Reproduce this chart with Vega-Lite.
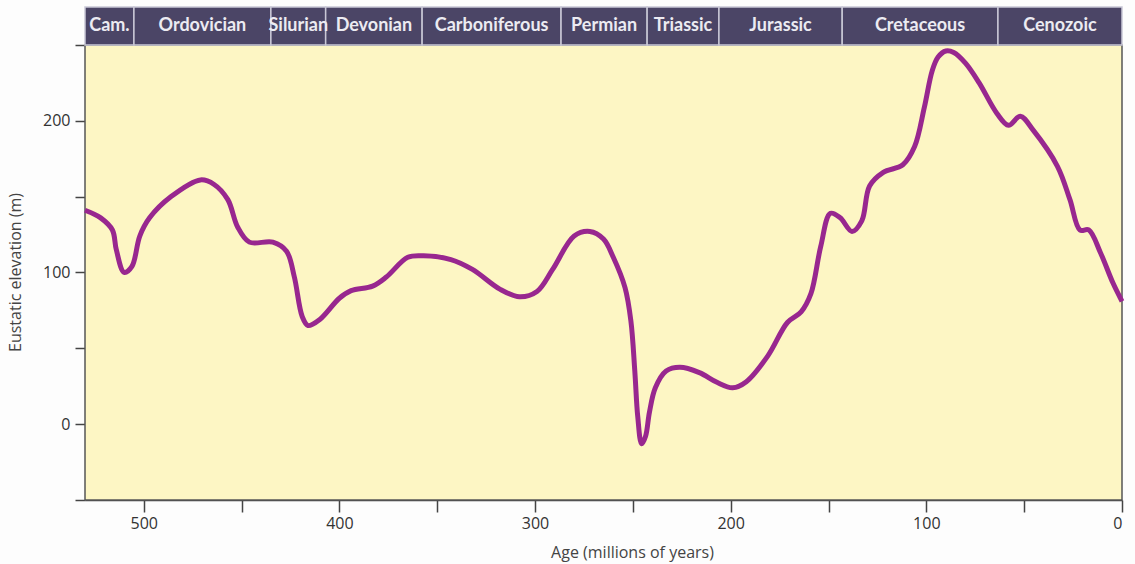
{
  "$schema": "https://vega.github.io/schema/vega-lite/v6.json",
  "autosize": "none",
  "width": 1037,
  "height": 493,
  "padding": {"left": 85, "top": 7, "right": 13, "bottom": 64},
  "background": "#fdfdfd",
  "config": {"view": {"stroke": null}},
  "datasets": {
    "curve": [
      {"age": 530, "elev": 141}, {"age": 522, "elev": 136}, {"age": 516, "elev": 128}, {"age": 514, "elev": 115},
      {"age": 510, "elev": 100}, {"age": 506, "elev": 104}, {"age": 502, "elev": 124}, {"age": 497, "elev": 136},
      {"age": 486, "elev": 150}, {"age": 471, "elev": 161}, {"age": 464, "elev": 158}, {"age": 457, "elev": 148},
      {"age": 452, "elev": 130}, {"age": 446, "elev": 120}, {"age": 434, "elev": 120}, {"age": 427, "elev": 114},
      {"age": 423, "elev": 97}, {"age": 419, "elev": 71}, {"age": 416, "elev": 65}, {"age": 410, "elev": 69},
      {"age": 400, "elev": 83}, {"age": 394, "elev": 88}, {"age": 383, "elev": 91}, {"age": 376, "elev": 97},
      {"age": 365, "elev": 110}, {"age": 357, "elev": 111}, {"age": 343, "elev": 108.5}, {"age": 332, "elev": 102},
      {"age": 318, "elev": 89}, {"age": 308, "elev": 84}, {"age": 299, "elev": 87.5}, {"age": 291, "elev": 102},
      {"age": 280, "elev": 124}, {"age": 272, "elev": 127}, {"age": 265, "elev": 122}, {"age": 260, "elev": 110},
      {"age": 254, "elev": 90}, {"age": 251, "elev": 68}, {"age": 249, "elev": 35}, {"age": 247.5, "elev": 5},
      {"age": 245.5, "elev": -13}, {"age": 243.5, "elev": -8}, {"age": 241.5, "elev": 8}, {"age": 238.5, "elev": 24},
      {"age": 233, "elev": 35}, {"age": 226, "elev": 37.5}, {"age": 216, "elev": 34}, {"age": 207, "elev": 27.6},
      {"age": 199, "elev": 24}, {"age": 192, "elev": 28}, {"age": 181, "elev": 45}, {"age": 171, "elev": 67},
      {"age": 164, "elev": 74}, {"age": 159, "elev": 86}, {"age": 154, "elev": 117}, {"age": 149, "elev": 139},
      {"age": 144, "elev": 136}, {"age": 138, "elev": 127}, {"age": 133, "elev": 134}, {"age": 129, "elev": 157},
      {"age": 122, "elev": 166}, {"age": 112, "elev": 171}, {"age": 106, "elev": 183}, {"age": 101, "elev": 209},
      {"age": 97, "elev": 233}, {"age": 94, "elev": 242}, {"age": 90, "elev": 246}, {"age": 86, "elev": 245},
      {"age": 80, "elev": 238}, {"age": 73, "elev": 225}, {"age": 64, "elev": 205}, {"age": 58, "elev": 197},
      {"age": 52, "elev": 203}, {"age": 45.5, "elev": 194}, {"age": 33, "elev": 170}, {"age": 26.6, "elev": 148},
      {"age": 21.5, "elev": 128}, {"age": 17, "elev": 128}, {"age": 11, "elev": 113}, {"age": 4.6, "elev": 93},
      {"age": 0, "elev": 81}
    ],
    "periods": [
      {"name": "Cam.", "start": 530, "end": 505},
      {"name": "Ordovician", "start": 505, "end": 435},
      {"name": "Silurian", "start": 435, "end": 407},
      {"name": "Devonian", "start": 407, "end": 357.7},
      {"name": "Carboniferous", "start": 357.7, "end": 286.7},
      {"name": "Permian", "start": 286.7, "end": 242.7},
      {"name": "Triassic", "start": 242.7, "end": 206},
      {"name": "Jurassic", "start": 206, "end": 143},
      {"name": "Cretaceous", "start": 143, "end": 63.4},
      {"name": "Cenozoic", "start": 63.4, "end": 0}
    ]
  },
  "layer": [
    {
      "data": {"values": [{"a": 530, "b": 0}]},
      "mark": {"type": "rect", "fill": "#fdf6c4", "stroke": "#555555", "strokeWidth": 1.5},
      "encoding": {
        "x": {"field": "a", "type": "quantitative", "scale": {"domain": [0, 530], "reverse": true, "nice": false, "zero": false},
          "axis": {
            "values": [0, 50, 100, 150, 200, 250, 300, 350, 400, 450, 500],
            "labelExpr": "datum.value % 100 === 0 ? datum.label : ''",
            "title": "Age (millions of years)",
            "titleX": 547, "titleY": 52, "titleBaseline": "middle",
            "titleFont": "Open Sans", "titleFontSize": 16, "titleFontWeight": "normal", "titleColor": "#444444",
            "labelFont": "Open Sans", "labelFontSize": 16, "labelColor": "#333333", "labelPadding": 3,
            "tickSize": 12, "tickColor": "#444444", "tickWidth": 1.5,
            "domainColor": "#444444", "domainWidth": 1.5, "grid": false
          }},
        "x2": {"field": "b"},
        "y": {"datum": -50, "type": "quantitative", "scale": {"domain": [-50, 275], "nice": false, "zero": false},
          "axis": {
            "values": [-50, 0, 50, 100, 150, 200, 250],
            "labelExpr": "datum.value % 100 === 0 ? datum.label : ''",
            "title": "Eustatic elevation (m)",
            "titleX": -70, "titleY": 265, "titleBaseline": "middle", "titleAngle": -90,
            "titleFont": "Open Sans", "titleFontSize": 16, "titleFontWeight": "normal", "titleColor": "#444444",
            "labelFont": "Open Sans", "labelFontSize": 16, "labelColor": "#333333", "labelPadding": 5,
            "tickSize": 10, "tickColor": "#444444", "tickWidth": 1.5,
            "domain": false, "grid": false
          }},
        "y2": {"datum": 250}
      }
    },
    {
      "mark": {"type": "rule", "color": "#4f80b0", "strokeWidth": 1.5},
      "encoding": {"y": {"datum": 0, "type": "quantitative"}}
    },
    {
      "data": {"name": "curve"},
      "mark": {"type": "line", "color": "#98278f", "strokeWidth": 5, "interpolate": "catmull-rom"},
      "encoding": {
        "x": {"field": "age", "type": "quantitative"},
        "y": {"field": "elev", "type": "quantitative"},
        "order": {"field": "age", "sort": "descending"}
      }
    },
    {
      "data": {"name": "periods"},
      "mark": {"type": "rect", "fill": "#4b4566", "stroke": "#c9c8d6", "strokeWidth": 1.5},
      "encoding": {
        "x": {"field": "start", "type": "quantitative"},
        "x2": {"field": "end"},
        "y": {"datum": 250, "type": "quantitative"},
        "y2": {"datum": 275}
      }
    },
    {
      "data": {"name": "periods"},
      "transform": [{"calculate": "(datum.start + datum.end) / 2", "as": "mid"}],
      "mark": {"type": "text", "color": "#ecebf2", "font": "Lato", "fontSize": 18, "fontWeight": "bold", "align": "center", "baseline": "middle"},
      "encoding": {
        "x": {"field": "mid", "type": "quantitative"},
        "y": {"datum": 262.5, "type": "quantitative"},
        "text": {"field": "name"}
      }
    }
  ]
}
